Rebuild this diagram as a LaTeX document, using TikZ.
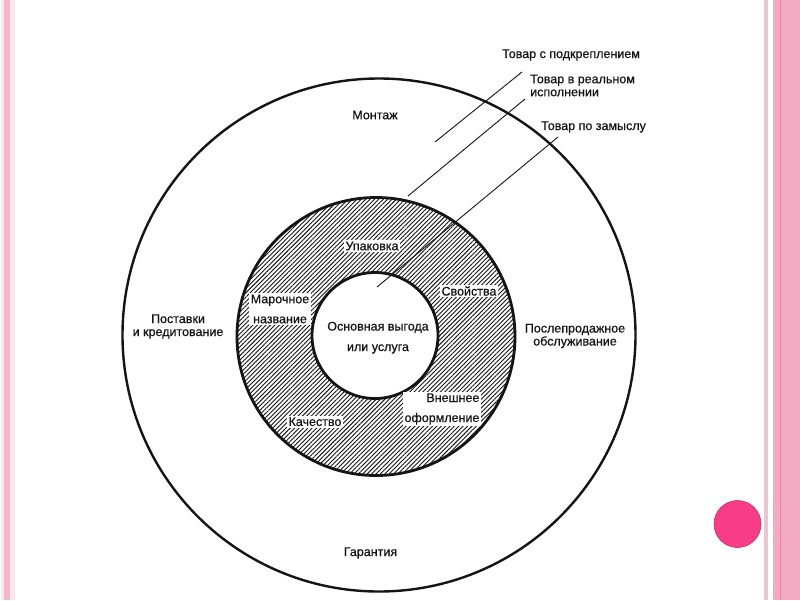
\documentclass[tikz,border=0pt]{standalone}
\usepackage{fontspec}
\setmainfont{Liberation Sans}
\newfontfamily\lblfont{Liberation Sans}[FakeBold=0.6]
\usetikzlibrary{patterns.meta}
\definecolor{barpink}{HTML}{F2A9C2}
\definecolor{barpinklight}{HTML}{EDC4D3}
\definecolor{barline}{HTML}{E5879F}
\definecolor{dotpink}{HTML}{F83C85}
\definecolor{ink}{HTML}{141414}
\begin{document}
\begin{tikzpicture}[x=1pt,y=-1pt,
  lbl/.style={font=\lblfont\fontsize{12.5}{13}\selectfont, text=ink, inner sep=0pt},
  boxlbl/.style={lbl, fill=white, inner sep=1.5pt},
  ptr/.style={line width=0.9pt, draw=ink},
  ring/.style={line width=2.8pt, draw=ink}]
\useasboundingbox (0,0) rectangle (800,600);
\fill[white] (0,0) rectangle (800,600);
% side bars
\fill[barpinklight!40] (1,0) rectangle (15,600);
\fill[barpink!85] (4,0) rectangle (9.5,600);
\fill[barpinklight] (764,0) rectangle (768,600);
\fill[barpink] (773,0) rectangle (800,600);
\draw[barline, line width=0.8pt] (780,0) -- (780,600);
% decorative dot
\fill[dotpink, draw=dotpink!80!black, line width=0.6pt] (737.5,524) circle[radius=23.5pt];
% hatched ring
\path[pattern={Lines[angle=45,distance=3.1pt,line width=0.9pt]}, pattern color=ink, even odd rule]
  (376,336.5) circle[radius=139pt] (375,335.5) circle[radius=63pt];
% circles
\draw[ink, line width=2.4pt] (379,335) circle[radius=256.5pt];
\draw[ring] (376,336.5) circle[radius=139pt];
\draw[ring] (375,335.5) circle[radius=63pt];
% pointer end points
\coordinate (p1a) at (522,72);
\coordinate (p1b) at (435,142);
\coordinate (p2a) at (525,99);
\coordinate (p2b) at (408,196);
\coordinate (p3a) at (558,137);
\coordinate (p3b) at (377,287);
\draw[ptr] (p1a) -- (p1b);
\draw[ptr] (p2a) -- (p2b);
\draw[ptr] (p3a) -- (p3b);
% labels
\node[lbl] (aug) at (571,55) {Товар с подкреплением};
\node[lbl, align=left, anchor=west] (act) at (530,85.5) {Товар в реальном\\исполнении};
\node[lbl] (core) at (593.5,127) {Товар по замыслу};
\node[lbl] (mont) at (375,115) {Монтаж};
\node[lbl, align=center] (post) at (178,326.5) {Поставки\\и кредитование};
\node[lbl, align=center] (after) at (575,336) {Послепродажное\\обслуживание};
\node[lbl] (guar) at (370.5,553) {Гарантия};
\node[boxlbl] (pack) at (372,246) {Упаковка};
\node[boxlbl] (prop) at (469,291) {Свойства};
\node[boxlbl, align=center, font=\lblfont\fontsize{12.5}{20}\selectfont] (brand) at (280,309) {Марочное\\название};
\node[lbl, align=center, font=\lblfont\fontsize{12.5}{20.5}\selectfont] (benefit) at (378,337.7) {Основная выгода\\или услуга};
\node[boxlbl, align=right, font=\lblfont\fontsize{12.5}{20}\selectfont] (design) at (442,409) {Внешнее\\оформление};
\node[boxlbl] (qual) at (315,421.7) {Качество};
\end{tikzpicture}
\end{document}
